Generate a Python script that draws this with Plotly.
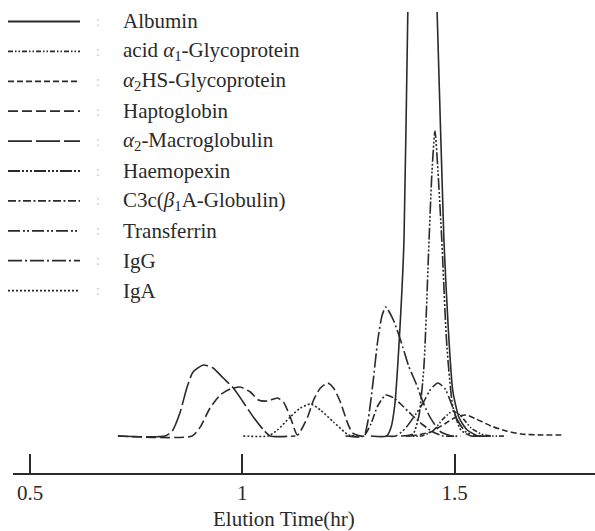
import plotly.graph_objects as go

# Elution profiles of serum proteins (relative detector response vs. elution time)
albumin_t = [1.303, 1.340, 1.350, 1.359, 1.369, 1.381, 1.390, 1.402, 1.423, 1.444, 1.459, 1.475, 1.485, 1.496, 1.511, 1.530, 1.556, 1.586]
albumin_y = [0, 0, 8, 30, 90, 196, 424, 600, 700, 600, 424, 196, 110, 45, 18, 6, 0, 0]

acid_gp_t = [1.385, 1.421, 1.449, 1.473, 1.496, 1.515, 1.539, 1.563, 1.586, 1.622]
acid_gp_y = [0, 0, 5, 17, 25, 20, 8, 2, 0, 0]

hs_gp_t = [1.397, 1.444, 1.480, 1.504, 1.527, 1.551, 1.586, 1.622, 1.657, 1.704, 1.757]
hs_gp_y = [0, 4, 13, 19, 21, 17, 10, 5, 2, 1, 1]

hapto_t = [0.707, 0.882, 0.901, 0.924, 0.948, 0.972, 0.995, 1.019, 1.038, 1.059, 1.083, 1.097, 1.113, 1.130,
           1.154, 1.168, 1.184, 1.201, 1.215, 1.232, 1.248, 1.260, 1.279]
hapto_y = [0, 0, 9, 28, 41, 47, 49, 44, 36, 35, 38, 34, 19, 1, 19, 36, 48, 53, 48, 33, 13, 3, 0]

macro_t = [0.707, 0.818, 0.835, 0.853, 0.870, 0.884, 0.908, 0.931, 0.955, 0.979, 1.002, 1.026, 1.050, 1.066, 1.125]
macro_y = [0, 0, 5, 23, 49, 64, 71, 68, 58, 48, 34, 19, 6, 0, 0]

hemopexin_t = [1.374, 1.402, 1.416, 1.428, 1.440, 1.447, 1.454, 1.461, 1.470, 1.482, 1.496, 1.515, 1.539, 1.563]
hemopexin_y = [0, 2, 20, 70, 196, 265, 305, 265, 196, 90, 30, 6, 0, 0]

c3c_t = [1.255, 1.286, 1.303, 1.319, 1.338, 1.357, 1.378, 1.402, 1.426, 1.449, 1.473, 1.504]
c3c_y = [0, 0, 12, 30, 41, 38, 30, 20, 11, 4, 0, 0]

transferrin_t = [1.338, 1.362, 1.385, 1.409, 1.426, 1.444, 1.461, 1.478, 1.492, 1.508, 1.527, 1.551, 1.574]
transferrin_y = [0, 0, 8, 22, 33, 47, 53, 47, 33, 15, 4, 0, 0]

igg_t = [1.243, 1.286, 1.296, 1.307, 1.319, 1.329, 1.338, 1.357, 1.378, 1.392, 1.409, 1.423, 1.437, 1.454, 1.468, 1.492, 1.515]
igg_y = [0, 0, 15, 50, 95, 120, 129, 115, 89, 70, 53, 37, 23, 11, 4, 0, 0]

iga_t = [1.002, 1.061, 1.083, 1.113, 1.137, 1.161, 1.184, 1.215, 1.251, 1.284]
iga_y = [0, 0, 6, 19, 28, 32, 26, 14, 1, 0]

names = [
    "Albumin",
    "acid <i>α</i><sub>1</sub>-Glycoprotein",
    "<i>α</i><sub>2</sub>HS-Glycoprotein",
    "Haptoglobin",
    "<i>α</i><sub>2</sub>-Macroglobulin",
    "Haemopexin",
    "C3c(<i>β</i><sub>1</sub>A-Globulin)",
    "Transferrin",
    "IgG",
    "IgA",
]
dashes = [
    "solid",
    "5px,2px,1.5px,2px,1.5px,2px",
    "6px,3px",
    "10px,4px",
    "24px,4px",
    "12px,2px,2px,2px,2px,2px,2px,2px",
    "8px,2.5px,2px,2.5px",
    "12px,3px,2px,2px,2px,3px",
    "14px,3px,2px,3px",
    "2px,2px",
]
series = [
    (albumin_t, albumin_y),
    (acid_gp_t, acid_gp_y),
    (hs_gp_t, hs_gp_y),
    (hapto_t, hapto_y),
    (macro_t, macro_y),
    (hemopexin_t, hemopexin_y),
    (c3c_t, c3c_y),
    (transferrin_t, transferrin_y),
    (igg_t, igg_y),
    (iga_t, iga_y),
]

W, H = 595, 531
L, R, T, B = 13, 0, 12, 58   # plot area: x 13..595, y 12..473
INK = "#2a2a2a"
SERIF = "Liberation Serif, Times New Roman, serif"

fig = go.Figure()
for (t, y), name, dash in zip(series, names, dashes):
    fig.add_trace(go.Scatter(
        x=t, y=y, mode="lines", name=name,
        line=dict(color=INK, width=1.6, dash=dash, shape="spline", smoothing=0.6),
        showlegend=False,
    ))

pw, ph = W - L - R, H - T - B


def px_x(px):
    return (px - L) / pw


def px_y(py):
    return (H - B - py) / ph


# key drawn at the upper left: line sample, separator, label
row0, row_step = 21.5, 29.9
for i, (name, dash) in enumerate(zip(names, dashes)):
    yy = px_y(row0 + i * row_step)
    fig.add_shape(type="line", xref="paper", yref="paper",
                  x0=px_x(8), x1=px_x(80), y0=yy, y1=yy,
                  line=dict(color=INK, width=1.8, dash=dash))
    fig.add_annotation(xref="paper", yref="paper", x=px_x(98), y=yy,
                       text=":", showarrow=False, xanchor="center", yanchor="middle",
                       font=dict(family=SERIF, size=14, color="#c8c8c8"))
    fig.add_annotation(xref="paper", yref="paper", x=px_x(121), y=yy,
                       text=name, showarrow=False, xanchor="left", yanchor="middle",
                       font=dict(family=SERIF, size=21, color=INK))

# axis title, set a little left of the plot centre
fig.add_annotation(xref="paper", yref="paper", x=px_x(284), y=px_y(519),
                   text="Elution Time(hr)", showarrow=False,
                   xanchor="center", yanchor="middle",
                   font=dict(family=SERIF, size=21, color=INK))

fig.update_layout(
    width=W, height=H,
    margin=dict(l=L, r=R, t=T, b=B),
    paper_bgcolor="white", plot_bgcolor="white",
    xaxis=dict(
        range=[0.4598, 1.8310],
        showgrid=False, zeroline=False,
        showline=True, linecolor=INK, linewidth=1.6,
        ticks="inside", ticklen=19, tickwidth=1.6, tickcolor=INK,
        tickvals=[0.5, 1, 1.5], ticktext=["0.5", "1", "1.5"],
        tickfont=dict(family=SERIF, size=21, color=INK),
    ),
    yaxis=dict(range=[-37, 424], visible=False, showgrid=False, zeroline=False),
)

fig.write_html("out.html")
